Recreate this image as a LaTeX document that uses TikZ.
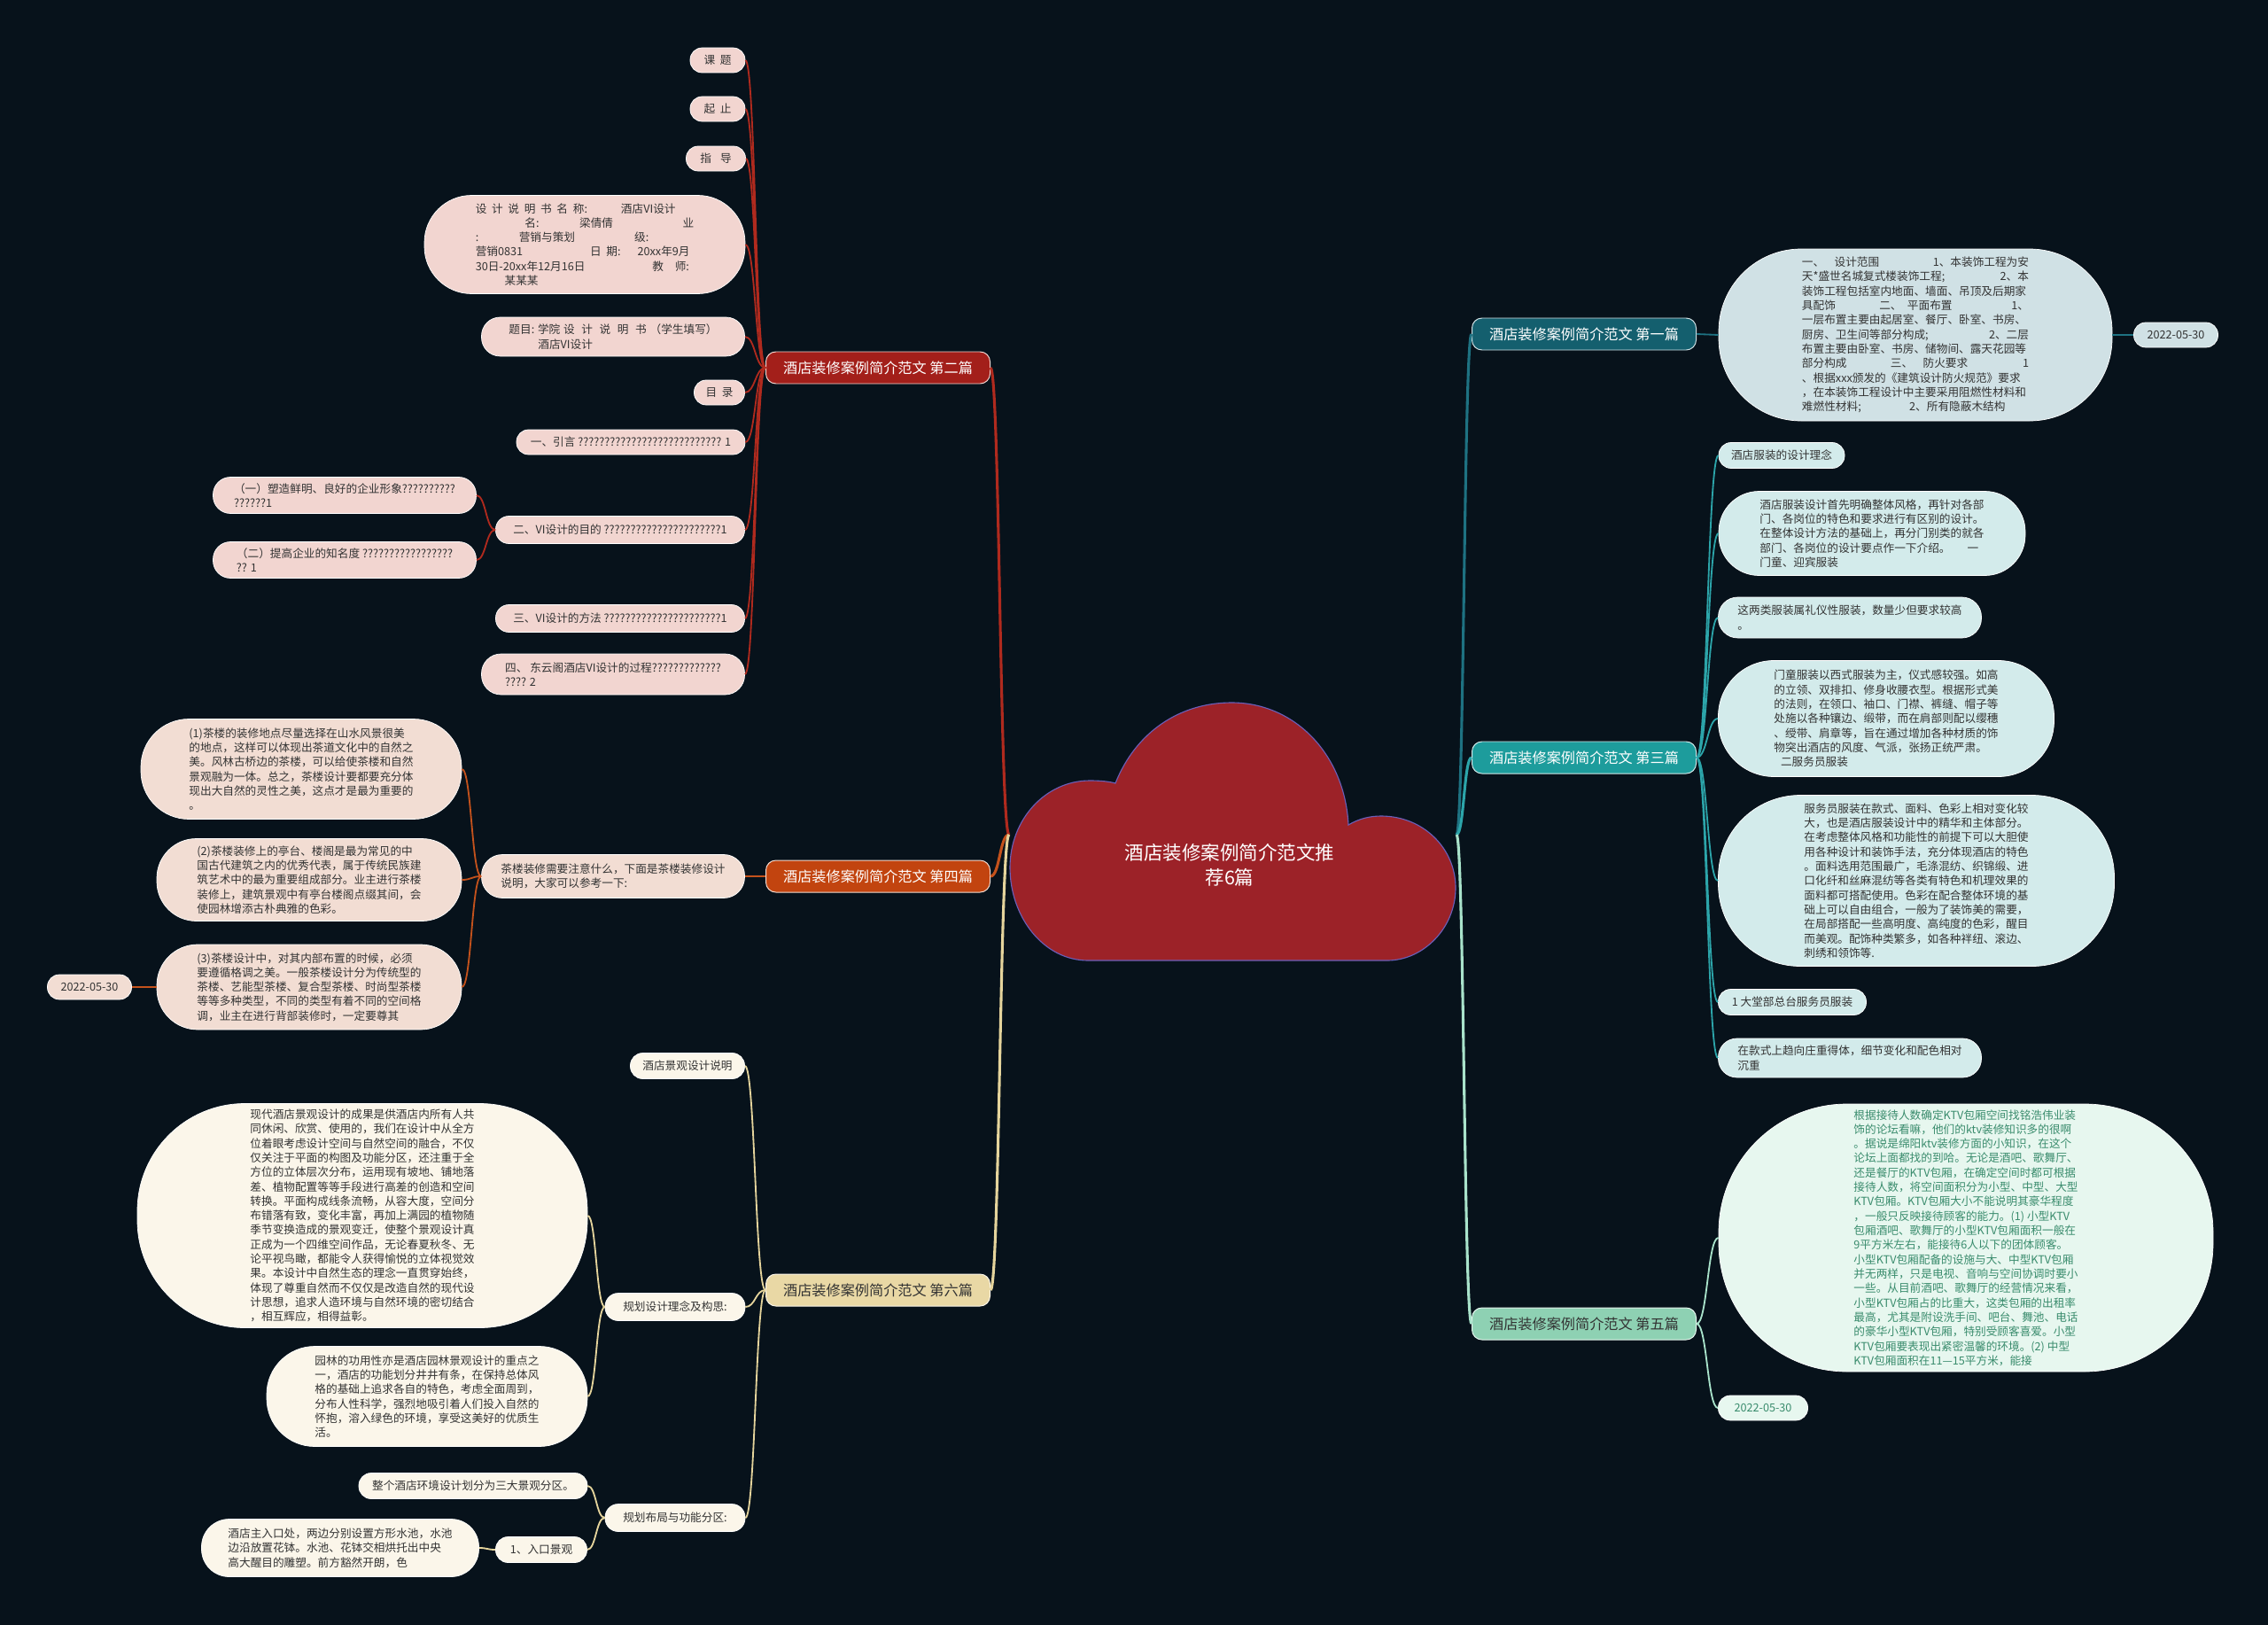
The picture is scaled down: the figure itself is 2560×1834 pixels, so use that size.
\documentclass[tikz,border=0pt]{standalone}
\usepackage{fontspec}
\setmainfont{Noto Sans CJK SC}
\usetikzlibrary{calc}
\definecolor{bg}{HTML}{07121B}
\definecolor{cloudf}{HTML}{9C2228}
\definecolor{cloudd}{HTML}{6A5FB8}
\definecolor{txt}{HTML}{333333}
\definecolor{redf}{HTML}{A31F1A}
\definecolor{redl}{HTML}{B02A1E}
\definecolor{pinkf}{HTML}{F2D5D0}
\definecolor{orf}{HTML}{C2440F}
\definecolor{orl}{HTML}{C4521C}
\definecolor{peachf}{HTML}{F2DDD3}
\definecolor{begf}{HTML}{E9D8A5}
\definecolor{begl}{HTML}{E5D49C}
\definecolor{creamf}{HTML}{FBF6EA}
\definecolor{dtf}{HTML}{145F6E}
\definecolor{dtl}{HTML}{1E7282}
\definecolor{bluef}{HTML}{D0E1E5}
\definecolor{tf}{HTML}{1D9C9C}
\definecolor{tl}{HTML}{2CA5AA}
\definecolor{cyanf}{HTML}{D3EBEB}
\definecolor{mf}{HTML}{8ED1B3}
\definecolor{ml}{HTML}{A9E3CB}
\definecolor{mintf}{HTML}{E7F7EF}
\definecolor{mtxt}{HTML}{3A8C6D}
\newcommand\kgap{\hspace{0.45em}}
\tikzset{
  bx/.style n args={2}{minimum width=#1*0.025cm, minimum height=#2*0.025cm, rounded corners=#2*0.012cm},
  hc/.style={to path={let \p1=(\tikztostart), \p2=(\tikztotarget) in .. controls ({0.5*\x1+0.5*\x2},\y1) and ({0.5*\x1+0.5*\x2},\y2) .. (\tikztotarget)}},
  lvone/.style={minimum width=253*0.025cm, minimum height=36*0.025cm, rounded corners=8pt, font=\fontsize{11.5}{14}\selectfont, line width=0.7pt},
  redn/.style={lvone, fill=redf, draw=pinkf, text=white},
  orn/.style={lvone, fill=orf, draw=peachf, text=white},
  begn/.style={lvone, fill=begf, draw=creamf, text=txt},
  dtn/.style={lvone, fill=dtf, draw=bluef, text=white},
  tn/.style={lvone, fill=tf, draw=cyanf, text=white},
  mn/.style={lvone, fill=mf, draw=mintf, text=txt},
  pk/.style={fill=pinkf, draw=white, text=txt, line width=0.5pt},
  pc/.style={fill=peachf, draw=white, text=txt, line width=0.5pt},
  cr/.style={fill=creamf, draw=white, text=txt, line width=0.5pt},
  bl/.style={fill=bluef, draw=white, text=txt, line width=0.5pt},
  cy/.style={fill=cyanf, draw=white, text=txt, line width=0.5pt},
  mt/.style={fill=mintf, draw=white, text=mtxt, line width=0.5pt},
  lnone/.style={line width=2.2pt},
  lntwo/.style={line width=1.3pt},
}
\begin{document}
\begin{tikzpicture}[x=0.025cm,y=-0.025cm,
  every node/.style={font=\fontsize{9}{11.6}\selectfont, inner sep=0pt, align=left}]
\path[fill=bg] (0,0) rectangle (2560,1834);

% cloud root
\draw[fill=cloudf, draw=cloudd, line width=0.8pt]
 (1228,1084) .. controls (1178,1084) and (1140,1035) .. (1140,979)
 .. controls (1140,925) and (1180,881) .. (1230,881)
 .. controls (1242,881) and (1252,882) .. (1259,884)
 .. controls (1282,826) and (1332,793) .. (1390,793)
 .. controls (1462,793) and (1518,852) .. (1522,931)
 .. controls (1534,924) and (1546,921) .. (1559,921)
 .. controls (1606,921) and (1643,957) .. (1643,1002)
 .. controls (1643,1048) and (1606,1084) .. (1566,1084)
 -- cycle;
\node[align=center, text=white, font=\fontsize{15.3}{20}\selectfont] (root) at (1388,976) {酒店装修案例简介范文推\\荐6篇};
\coordinate (rl) at (1139,942);
\coordinate (rr) at (1644,942);

% level one
\node[redn] (n2) at (991,415) {酒店装修案例简介范文 第二篇};
\node[orn] (n4) at (991,989) {酒店装修案例简介范文 第四篇};
\node[begn] (n6) at (991,1456) {酒店装修案例简介范文 第六篇};
\node[dtn] (n1) at (1788,377) {酒店装修案例简介范文 第一篇};
\node[tn] (n3) at (1788,855) {酒店装修案例简介范文 第三篇};
\node[mn] (n5) at (1788,1494) {酒店装修案例简介范文 第五篇};

% branch 2
\node[pk, bx={62}{28}] (a1) at (810,68) {课\kgap 题};
\node[pk, bx={62}{28}] (a2) at (810,123) {起\kgap 止};
\node[pk, bx={67}{28}] (a3) at (808,179) {指\hspace{0.8em}导};
\node[pk, bx={362}{111}] (a4) at (660,276) {设\kgap 计\kgap 说\kgap 明\kgap 书\kgap 名\kgap 称:\hspace{3em}酒店VI设计\\
\hspace{4.4em}名:\hspace{3.6em}梁倩倩\hspace{6.2em}业\\
:\hspace{3.6em}营销与策划\hspace{5.3em}级:\\
营销0831\hspace{6em}日\kgap 期:\hspace{1.5em}20xx年9月\\
30日-20xx年12月16日\hspace{6em}教\hspace{1em}师:\\
\hspace{2.6em}某某某};
\node[pk, bx={297}{44}] (a5) at (692,380) {题目:\hspace{0.3em}学院\hspace{0.3em}设\hspace{0.6em}计\hspace{0.6em}说\hspace{0.6em}明\hspace{0.6em}书\hspace{0.3em}（学生填写）\\\hspace{2.6em}酒店VI设计};
\node[pk, bx={57}{28}] (a6) at (812,443) {目\kgap 录};
\node[pk, bx={258}{28}] (a7) at (712,499) {一、引言 ??????????????????????????? 1};
\node[pk, bx={281}{31}] (a8) at (700,598) {二、VI设计的目的 ??????????????????????1};
\node[pk, bx={297}{41}] (a8a) at (389,559) {（一）塑造鲜明、良好的企业形象??????????\\??????1};
\node[pk, bx={297}{41}] (a8b) at (389,632) {（二）提高企业的知名度 ?????????????????\\?? 1};
\node[pk, bx={281}{31}] (a9) at (700,698) {三、VI设计的方法 ??????????????????????1};
\node[pk, bx={297}{46}] (a10) at (692,761) {四、 东云阁酒店VI设计的过程?????????????\\???? 2};

% branch 4
\node[pc, bx={297}{49}] (b1) at (692,989) {茶楼装修需要注意什么，下面是茶楼装修设计\\说明，大家可以参考一下:};
\node[pc, bx={362}{113}] (b1a) at (340,868) {(1)茶楼的装修地点尽量选择在山水风景很美\\的地点，这样可以体现出茶道文化中的自然之\\美。风林古桥边的茶楼，可以给使茶楼和自然\\景观融为一体。总之，茶楼设计要都要充分体\\现出大自然的灵性之美，这点才是最为重要的\\。};
\node[pc, bx={344}{93}] (b1b) at (349,993) {(2)茶楼装修上的亭台、楼阁是最为常见的中\\国古代建筑之内的优秀代表，属于传统民族建\\筑艺术中的最为重要组成部分。业主进行茶楼\\装修上，建筑景观中有亭台楼阁点缀其间，会\\使园林增添古朴典雅的色彩。};
\node[pc, bx={344}{96}] (b1c) at (349,1114) {(3)茶楼设计中，对其内部布置的时候，必须\\要遵循格调之美。一般茶楼设计分为传统型的\\茶楼、艺能型茶楼、复合型茶楼、时尚型茶楼\\等等多种类型，不同的类型有着不同的空间格\\调，业主在进行背部装修时，一定要尊其};
\node[pc, bx={95}{28}] (b1d) at (101,1114) {2022-05-30};

% branch 6
\node[cr, bx={129}{29}] (c1) at (776,1203) {酒店景观设计说明};
\node[cr, bx={158}{31}] (c2) at (762,1475) {规划设计理念及构思:};
\node[cr, bx={508}{253}] (c2a) at (409,1372) {现代酒店景观设计的成果是供酒店内所有人共\\同休闲、欣赏、使用的，我们在设计中从全方\\位着眼考虑设计空间与自然空间的融合，不仅\\仅关注于平面的构图及功能分区，还注重于全\\方位的立体层次分布，运用现有坡地、铺地落\\差、植物配置等等手段进行高差的创造和空间\\转换。平面构成线条流畅，从容大度，空间分\\布错落有致，变化丰富，再加上满园的植物随\\季节变换造成的景观变迁，使整个景观设计真\\正成为一个四维空间作品，无论春夏秋冬、无\\论平视鸟瞰，都能令人获得愉悦的立体视觉效\\果。本设计中自然生态的理念一直贯穿始终，\\体现了尊重自然而不仅仅是改造自然的现代设\\计思想，追求人造环境与自然环境的密切结合\\，相互辉应，相得益彰。};
\node[cr, bx={362}{113}] (c2b) at (482,1576) {园林的功用性亦是酒店园林景观设计的重点之\\一，酒店的功能划分井井有条，在保持总体风\\格的基础上追求各自的特色，考虑全面周到，\\分布人性科学，强烈地吸引着人们投入自然的\\怀抱，溶入绿色的环境，享受这美好的优质生\\活。};
\node[cr, bx={158}{31}] (c3) at (762,1713) {规划布局与功能分区:};
\node[cr, bx={258}{29}] (c3a) at (534,1677) {整个酒店环境设计划分为三大景观分区。};
\node[cr, bx={103}{29}] (c3b) at (611,1749) {1、入口景观};
\node[cr, bx={313}{65}] (c3ba) at (384,1747) {酒店主入口处，两边分别设置方形水池，水池\\边沿放置花钵。水池、花钵交相烘托出中央\\高大醒目的雕塑。前方豁然开朗，色};

% branch 1
\node[bl, bx={444}{194}, text width=6.4cm] (d1) at (2162,378) {一、\hspace{0.9em}设计范围\hfill 1、本装饰工程为安\\
天*盛世名城复式楼装饰工程;\hfill 2、本\\
装饰工程包括室内地面、墙面、吊顶及后期家\\
具配饰\hspace{3.9em}二、\hspace{0.5em}平面布置\hfill 1、\\
一层布置主要由起居室、餐厅、卧室、书房、\\
厨房、卫生间等部分构成;\hfill 2、二层\\
布置主要由卧室、书房、储物间、露天花园等\\
部分构成\hspace{3.9em}三、\hspace{0.9em}防火要求\hfill 1\\
、根据xxx颁发的《建筑设计防火规范》要求\\
，在本装饰工程设计中主要采用阻燃性材料和\\
难燃性材料;\hspace{4.3em}2、所有隐蔽木结构};
\node[bl, bx={95}{28}] (d1a) at (2456,378) {2022-05-30};

% branch 3
\node[cy, bx={142}{29}] (e1) at (2011,514) {酒店服装的设计理念};
\node[cy, bx={346}{95}] (e2) at (2113,602) {酒店服装设计首先明确整体风格，再针对各部\\门、各岗位的特色和要求进行有区别的设计。\\在整体设计方法的基础上，再分门别类的就各\\部门、各岗位的设计要点作一下介绍。\hspace{1.5em}一\\门童、迎宾服装};
\node[cy, bx={297}{46}] (e3) at (2088,697) {这两类服装属礼仪性服装，数量少但要求较高\\。};
\node[cy, bx={379}{131}] (e4) at (2129,811) {门童服装以西式服装为主，仪式感较强。如高\\的立领、双排扣、修身收腰衣型。根据形式美\\的法则，在领口、袖口、门襟、裤缝、帽子等\\处施以各种镶边、缎带，而在肩部则配以缨穗\\、绶带、肩章等，旨在通过增加各种材质的饰\\物突出酒店的风度、气派，张扬正统严肃。\\\hspace{0.6em}二服务员服装};
\node[cy, bx={447}{193}] (e5) at (2163,994) {服务员服装在款式、面料、色彩上相对变化较\\大，也是酒店服装设计中的精华和主体部分。\\在考虑整体风格和功能性的前提下可以大胆使\\用各种设计和装饰手法，充分体现酒店的特色\\。面料选用范围最广，毛涤混纺、织锦缎、进\\口化纤和丝麻混纺等各类有特色和机理效果的\\面料都可搭配使用。色彩在配合整体环境的基\\础上可以自由组合，一般为了装饰美的需要，\\在局部搭配一些高明度、高纯度的色彩，醒目\\而美观。配饰种类繁多，如各种袢纽、滚边、\\刺绣和领饰等.};
\node[cy, bx={167}{29}] (e6) at (2023,1131) {1 大堂部总台服务员服装};
\node[cy, bx={297}{44}] (e7) at (2088,1194) {在款式上趋向庄重得体，细节变化和配色相对\\沉重};

% branch 5
\node[mt, bx={558}{302}] (f1) at (2219,1397) {根据接待人数确定KTV包厢空间找铭浩伟业装\\饰的论坛看嘛，他们的ktv装修知识多的很啊\\。据说是绵阳ktv装修方面的小知识，在这个\\论坛上面都找的到哈。无论是酒吧、歌舞厅、\\还是餐厅的KTV包厢，在确定空间时都可根据\\接待人数，将空间面积分为小型、中型、大型\\KTV包厢。KTV包厢大小不能说明其豪华程度\\，一般只反映接待顾客的能力。(1) 小型KTV\\包厢酒吧、歌舞厅的小型KTV包厢面积一般在\\9平方米左右，能接待6人以下的团体顾客。\\小型KTV包厢配备的设施与大、中型KTV包厢\\并无两样，只是电视、音响与空间协调时要小\\一些。从目前酒吧、歌舞厅的经营情况来看，\\小型KTV包厢占的比重大，这类包厢的出租率\\最高，尤其是附设洗手间、吧台、舞池、电话\\的豪华小型KTV包厢，特别受顾客喜爱。小型\\KTV包厢要表现出紧密温馨的环境。(2) 中型\\KTV包厢面积在11—15平方米，能接};
\node[mt, bx={101}{28}] (f2) at (1990,1589) {2022-05-30};

% root connectors
\draw[lnone, redl] (rl) to[hc] (n2.east);
\draw[lnone, orl] (rl) to[hc] (n4.east);
\draw[lnone, begl] (rl) to[hc] (n6.east);
\draw[lnone, dtl] (rr) to[hc] (n1.west);
\draw[lnone, tl] (rr) to[hc] (n3.west);
\draw[lnone, ml] (rr) to[hc] (n5.west);

% branch 2 connectors
\foreach \c in {a1,a2,a3,a4,a5,a6,a7,a8,a9,a10}
  \draw[lntwo, redl] (n2.west) to[hc] (\c.east);
\draw[lntwo, redl] (a8.west) to[hc] (a8a.east);
\draw[lntwo, redl] (a8.west) to[hc] (a8b.east);

% branch 4 connectors
\draw[lntwo, orl] (n4.west) to[hc] (b1.east);
\foreach \c in {b1a,b1b,b1c}
  \draw[lntwo, orl] (b1.west) to[hc] (\c.east);
\draw[lntwo, orl] (b1c.west) to[hc] (b1d.east);

% branch 6 connectors
\foreach \c in {c1,c2,c3}
  \draw[lntwo, begl] (n6.west) to[hc] (\c.east);
\draw[lntwo, begl] (c2.west) to[hc] (c2a.east);
\draw[lntwo, begl] (c2.west) to[hc] (c2b.east);
\draw[lntwo, begl] (c3.west) to[hc] (c3a.east);
\draw[lntwo, begl] (c3.west) to[hc] (c3b.east);
\draw[lntwo, begl] (c3b.west) to[hc] (c3ba.east);

% branch 1 connectors
\draw[lntwo, dtl] (n1.east) to[hc] (d1.west);
\draw[lntwo, dtl] (d1.east) to[hc] (d1a.west);

% branch 3 connectors
\foreach \c in {e1,e2,e3,e4,e5,e6,e7}
  \draw[lntwo, tl] (n3.east) to[hc] (\c.west);

% branch 5 connectors
\draw[lntwo, ml] (n5.east) to[hc] (f1.west);
\draw[lntwo, ml] (n5.east) to[hc] (f2.west);
\end{tikzpicture}
\end{document}
